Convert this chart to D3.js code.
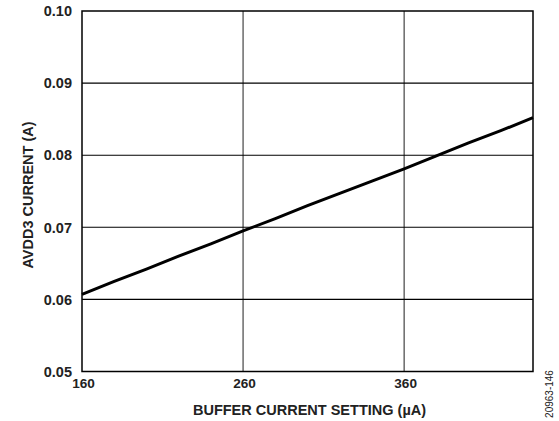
<!DOCTYPE html>
<html><head><meta charset="utf-8">
<script src="https://cdn.jsdelivr.net/npm/d3@7"></script>
<style>body{margin:0;background:#fff}svg{display:block}text{font-family:"Liberation Sans",Arial,sans-serif}</style>
</head><body><svg id="c" width="559" height="421"></svg>
<script>
const bufferSetting = [160,180,200,220,240,260,280,300,320,340,360,380,400,420,440];
const avdd3Current = [0.0607,0.0625,0.0642,0.0660,0.0677,0.0695,0.0712,0.0730,0.0747,0.0764,0.0781,0.0799,0.0817,0.0834,0.0852];
const xTicks = [160,260,360];
const yTicks = [0.05,0.06,0.07,0.08,0.09,0.10];
const xTitle = "BUFFER CURRENT SETTING (µA)";
const yTitle = "AVDD3 CURRENT (A)";
const tag = "20963-146";

const svg = d3.select("#c");
const L=82,R=533,T=11,B=371.5;
const x = d3.scaleLinear().domain([160,440]).range([L,R]);
const y = d3.scaleLinear().domain([0.05,0.10]).range([B,T]);

svg.append("g").selectAll("line").data(xTicks.slice(1)).join("line")
  .attr("x1",d=>x(d)).attr("x2",d=>x(d)).attr("y1",T).attr("y2",B)
  .attr("stroke","#444").attr("stroke-width",1.2);
svg.append("g").selectAll("line").data(yTicks.slice(1,-1)).join("line")
  .attr("x1",L).attr("x2",R).attr("y1",d=>y(d)).attr("y2",d=>y(d))
  .attr("stroke","#000").attr("stroke-width",1.1);
svg.append("rect").attr("x",L).attr("y",T).attr("width",R-L).attr("height",B-T)
  .attr("fill","none").attr("stroke","#000").attr("stroke-width",1.5);

svg.append("path").datum(bufferSetting.map((v,i)=>[v,avdd3Current[i]]))
  .attr("d",d3.line().x(d=>x(d[0])).y(d=>y(d[1])))
  .attr("fill","none").attr("stroke","#000").attr("stroke-width",3);

svg.append("g").selectAll("text").data(yTicks).join("text")
  .attr("x",L-10).attr("y",d=>y(d)).attr("dy","0.36em").attr("text-anchor","end")
  .attr("font-size",14.5).attr("font-weight","bold").attr("fill","#222")
  .text(d=>d3.format(".2f")(d));
svg.append("g").selectAll("text").data(xTicks).join("text")
  .attr("x",d=>x(d)+1.5).attr("y",B+16.5).attr("text-anchor","middle")
  .attr("font-size",13.6).attr("font-weight","bold").attr("fill","#222")
  .text(d=>d);
svg.append("text").attr("x",309.5).attr("y",414.5).attr("text-anchor","middle")
  .attr("font-size",14.5).attr("font-weight","bold").attr("fill","#222").text(xTitle);
svg.append("text").attr("transform",`translate(32.5,195) rotate(-90)`)
  .attr("text-anchor","middle").attr("font-size",14.5).attr("font-weight","bold").attr("fill","#222").text(yTitle);
svg.append("text").attr("transform",`translate(553,394) rotate(-90)`)
  .attr("text-anchor","middle").attr("font-size",10).attr("fill","#222").text(tag);
</script></body></html>
